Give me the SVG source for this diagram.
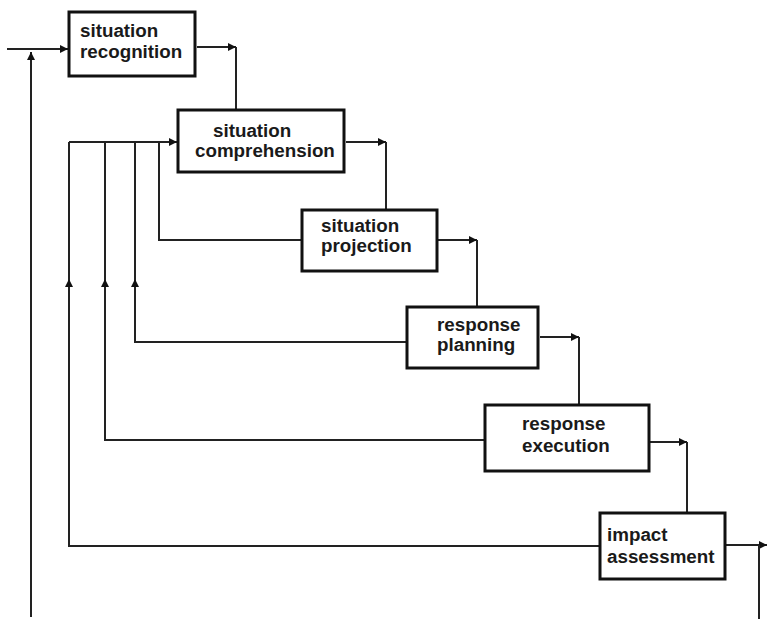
<svg xmlns="http://www.w3.org/2000/svg" width="768" height="619" viewBox="0 0 768 619">
<style>
.box{fill:#fff;stroke:#111;stroke-width:3}
.lbl{font-family:"Liberation Sans",Arial,sans-serif;font-weight:bold;font-size:18.8px;fill:#1a1a1a}
.ln{fill:none;stroke:#222;stroke-width:2}
</style>
<defs>
<marker id="arr" markerUnits="userSpaceOnUse" markerWidth="8" markerHeight="8" refX="8" refY="4" orient="auto">
<path d="M0,0 L8,4 L0,8 z" fill="#111"/>
</marker>
</defs>
<rect width="768" height="619" fill="#fff"/>
<g id="connectors">
<path class="ln" d="M7 49 H68" marker-end="url(#arr)"/>
<path class="ln" d="M31 617 V52" marker-end="url(#arr)"/>
<path class="ln" d="M197 47 H236" marker-end="url(#arr)"/>
<path class="ln" d="M236 47 V110"/>
<path class="ln" d="M69 142 H177" marker-end="url(#arr)"/>
<path class="ln" d="M346 142 H386" marker-end="url(#arr)"/>
<path class="ln" d="M386 142 V210"/>
<path class="ln" d="M438 240 H477" marker-end="url(#arr)"/>
<path class="ln" d="M477 240 V307"/>
<path class="ln" d="M540 337 H579" marker-end="url(#arr)"/>
<path class="ln" d="M579 337 V405"/>
<path class="ln" d="M650 442 H687" marker-end="url(#arr)"/>
<path class="ln" d="M687 442 V513"/>
<path class="ln" d="M726 545 H767" marker-end="url(#arr)"/>
<path class="ln" d="M759 545 V619"/>
<path class="ln" d="M302 240 H159 V142"/>
<path class="ln" d="M407 342 H135 V279" marker-end="url(#arr)"/>
<path class="ln" d="M135 280 V142"/>
<path class="ln" d="M485 440 H105 V279" marker-end="url(#arr)"/>
<path class="ln" d="M105 280 V142"/>
<path class="ln" d="M600 546 H69 V279" marker-end="url(#arr)"/>
<path class="ln" d="M69 280 V142"/>
</g>
<g id="situation-recognition">
<rect class="box" x="69" y="12" width="126" height="64"/>
<text class="lbl" x="80" y="37">situation</text>
<text class="lbl" x="80" y="58">recognition</text>
</g>
<g id="situation-comprehension">
<rect class="box" x="178" y="110" width="166" height="62"/>
<text class="lbl" x="213" y="137">situation</text>
<text class="lbl" x="195" y="157">comprehension</text>
</g>
<g id="situation-projection">
<rect class="box" x="302" y="210" width="135" height="61"/>
<text class="lbl" x="321" y="232">situation</text>
<text class="lbl" x="321" y="252">projection</text>
</g>
<g id="response-planning">
<rect class="box" x="407" y="307" width="131" height="61"/>
<text class="lbl" x="437" y="331">response</text>
<text class="lbl" x="437" y="351">planning</text>
</g>
<g id="response-execution">
<rect class="box" x="485" y="405" width="164" height="66"/>
<text class="lbl" x="522" y="430">response</text>
<text class="lbl" x="522" y="452">execution</text>
</g>
<g id="impact-assessment">
<rect class="box" x="600" y="513" width="125" height="66"/>
<text class="lbl" x="607" y="541">impact</text>
<text class="lbl" x="607" y="563">assessment</text>
</g>
</svg>
